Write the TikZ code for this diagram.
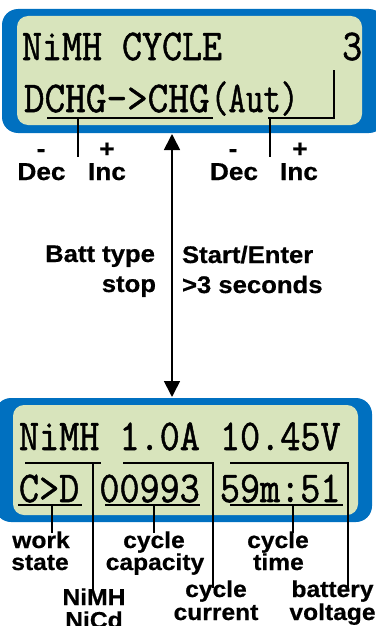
\documentclass[tikz,border=0pt]{standalone}
\usepackage{fontspec}
\usepackage{graphicx}
\usetikzlibrary{arrows.meta}
\newfontfamily\labfont[FakeStretch=1.07,FakeBold=0.6]{Liberation Sans}
\newfontfamily\lcdfont[Extension=.otf,FakeBold=1.2]{lmmono12-regular}
\definecolor{lcdblue}{HTML}{0070C0}
\definecolor{lcdgreen}{HTML}{D8E4BC}
\tikzset{
  frame/.style={draw=none,fill=lcdblue,rounded corners=16pt,inner sep=0,outer sep=0},
  screen/.style={draw=none,fill=lcdgreen,rounded corners=11pt,inner sep=0,outer sep=0},
  lcd/.style={inner sep=0,outer sep=0,anchor=base west,font=\lcdfont\fontsize{44}{44}\selectfont},
  lab/.style={inner sep=0,outer sep=0,anchor=base,font=\labfont\bfseries\fontsize{23}{23}\selectfont},
  toplab/.style={lab,font=\labfont\bfseries\fontsize{24.5}{24.5}\selectfont},
  biglab/.style={inner sep=0,outer sep=0,font=\labfont\bfseries\fontsize{24}{24}\selectfont},
  uline/.style={line width=1.3pt,black},
  link/.style={line width=1.7pt,black,{Triangle[width=16pt,length=16pt]}-{Triangle[width=16pt,length=16pt]}}
}
\begin{document}
\begin{tikzpicture}[x=1pt,y=-1pt]
\useasboundingbox (0,0) rectangle (375,626);
% top display
\node[frame,minimum width=383pt,minimum height=124pt] (frameA) at (193.5,71) {};
\node[screen,minimum width=345pt,minimum height=109pt] (screenA) at (189.5,70.5) {};
\node[lcd] (tA1) at (22,60) {\scalebox{0.883}[1]{NiMH\ CYCLE\ \ \ \ \ \ 3}};
\node[lcd] (tA2) at (24,112) {\scalebox{0.91}[1]{DCHG->CHG}};
\node[lcd] (tA3) at (211,112) {\scalebox{0.77}[1]{(Aut)}};
% bottom display
\node[frame,minimum width=377pt,minimum height=124pt] (frameB) at (183.5,460) {};
\node[screen,minimum width=345pt,minimum height=110pt] (screenB) at (185.5,460) {};
\node[lcd] (tB1) at (19,450) {\scalebox{0.887}[1]{NiMH\ 1.0A\ 10.45V}};
\node[lcd] (tB2) at (19,502) {\scalebox{0.887}[1]{C>D\ 00993\ 59m:51}};
% top brackets
\coordinate (uA1s) at (47,118); \coordinate (uA1e) at (213,118);
\coordinate (vA1s) at (78,118); \coordinate (vA1e) at (78,157);
\coordinate (uA2t) at (334,70); \coordinate (uA2c) at (334,118); \coordinate (uA2e) at (268,118);
\coordinate (vA2s) at (270,118); \coordinate (vA2e) at (270,157);
\draw[uline] (uA1s) -- (uA1e);
\draw[uline] (vA1s) -- (vA1e);
\draw[uline] (uA2t) -- (uA2c) -- (uA2e);
\draw[uline] (vA2s) -- (vA2e);
% top labels
\node[toplab] (m1) at (41,157) {-};
\node[toplab] (dec1) at (41.5,180) {Dec};
\node[toplab] (p1) at (107,157) {+};
\node[toplab] (inc1) at (107,180) {Inc};
\node[toplab] (m2) at (233,157) {-};
\node[toplab] (dec2) at (234,180) {Dec};
\node[toplab] (p2) at (300,157) {+};
\node[toplab] (inc2) at (299,180) {Inc};
% middle arrow
\coordinate (arA) at (172,134);
\coordinate (arB) at (172,397);
\draw[link] (arA) -- (arB);
\node[biglab,anchor=base east] (batt) at (155,262) {Batt type};
\node[biglab,anchor=base east] (stop) at (156,292) {stop};
\node[biglab,anchor=base west] (start) at (182,263) {Start/Enter};
\node[biglab,anchor=base west] (secs) at (182,293) {>3 seconds};
% bottom brackets
\coordinate (uB1s) at (25,463); \coordinate (uB1e) at (101,463);
\coordinate (vB1s) at (93,463); \coordinate (vB1e) at (93,590);
\coordinate (uB2s) at (123,463); \coordinate (uB2c) at (213,463); \coordinate (uB2e) at (213,588);
\coordinate (uB3s) at (230,463); \coordinate (uB3c) at (348,463); \coordinate (uB3e) at (348,588);
\coordinate (lB1s) at (18,505); \coordinate (lB1e) at (82,505);
\coordinate (wB1s) at (52,505); \coordinate (wB1e) at (52,533);
\coordinate (lB2s) at (105,505); \coordinate (lB2e) at (200,505);
\coordinate (wB2s) at (154,505); \coordinate (wB2e) at (154,533);
\coordinate (lB3s) at (230,505); \coordinate (lB3e) at (343,505);
\coordinate (wB3s) at (293,505); \coordinate (wB3e) at (293,533);
\draw[uline] (uB1s) -- (uB1e);
\draw[uline] (vB1s) -- (vB1e);
\draw[uline] (uB2s) -- (uB2c) -- (uB2e);
\draw[uline] (uB3s) -- (uB3c) -- (uB3e);
\draw[uline] (lB1s) -- (lB1e);
\draw[uline] (wB1s) -- (wB1e);
\draw[uline] (lB2s) -- (lB2e);
\draw[uline] (wB2s) -- (wB2e);
\draw[uline] (lB3s) -- (lB3e);
\draw[uline] (wB3s) -- (wB3e);
% bottom labels
\node[lab] (work) at (41,548) {work};
\node[lab] (state) at (40,570) {state};
\node[lab] (cyc1) at (154,548) {cycle};
\node[lab] (capa) at (155,570) {capacity};
\node[lab] (cyc2) at (278,548) {cycle};
\node[lab] (time) at (278.5,570) {time};
\node[lab] (nimh) at (94,605) {NiMH};
\node[lab] (nicd) at (94,628) {NiCd};
\node[lab] (cyc3) at (216,597) {cycle};
\node[lab] (curr) at (216,620) {current};
\node[lab] (batt2) at (332.5,597) {battery};
\node[lab] (volt) at (332.5,620) {voltage};
\end{tikzpicture}
\end{document}
